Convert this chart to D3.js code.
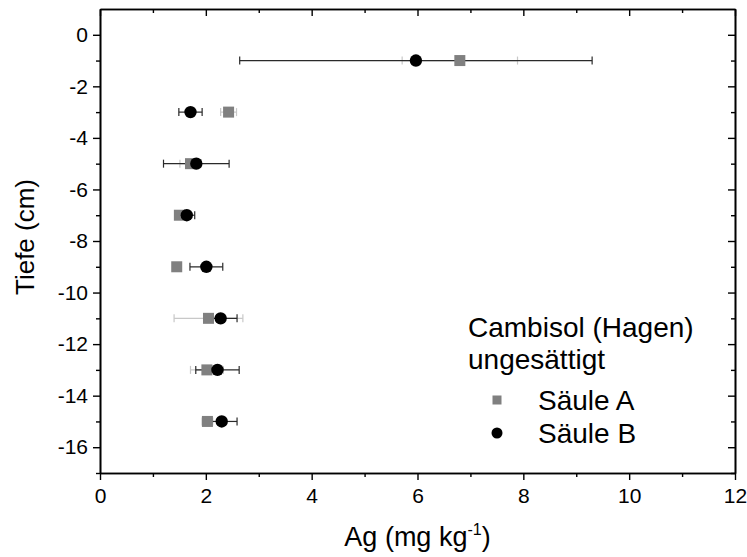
<!DOCTYPE html>
<meta charset="utf-8">
<script src="https://d3js.org/d3.v7.min.js"></script>
<style>
  body { margin: 0; background: white; }
  text { font-family: "Liberation Sans", Arial, sans-serif; fill: black; }
</style>
<div id="chart"></div>
<script>
// data
var depths = [-1, -3, -5, -7, -9, -11, -13, -15];
var saeuleA = [6.8, 2.43, 1.71, 1.5, 1.45, 2.05, 2.02, 2.03];
var saeuleAErr = [1.09, 0.15, 0.2, 0.08, 0.08, 0.65, 0.31, 0.1];
var saeuleB = [5.97, 1.71, 1.82, 1.64, 2.01, 2.28, 2.22, 2.3];
var saeuleBErr = [3.33, 0.22, 0.62, 0.15, 0.31, 0.31, 0.41, 0.29];
var xMajor = [0, 2, 4, 6, 8, 10, 12];
var yMajor = [0, -2, -4, -6, -8, -10, -12, -14, -16];

var margin = {top: 9, right: 12, bottom: 84, left: 100},
    width = 747 - margin.left - margin.right,
    height = 557 - margin.top - margin.bottom;

var svg = d3.select("#chart").append("svg")
    .attr("width", 747).attr("height", 557)
  .append("g")
    .attr("transform", "translate(" + margin.left + "," + margin.top + ")");

var x = d3.scaleLinear().domain([0, 12]).range([0, width]);
var y = d3.scaleLinear().domain([-17, 1]).range([height, 0]);

var xMinor = d3.range(1, 12, 2);
var yMinor = d3.range(-17, 1, 2);
var plain = function(d) { return String(d); };  // hyphen minus like the original

// axes: major + minor, outward on bottom/left, inward on top/right
function styleAxis(g) {
  g.select(".domain").attr("stroke", "black").attr("stroke-width", 1.6);
  g.selectAll(".tick line").attr("stroke", "black").attr("stroke-width", 1.4);
  g.selectAll(".tick text").attr("font-size", "21px")
    .attr("font-family", "Liberation Sans, Arial, sans-serif");
}

svg.append("g").attr("transform", "translate(0," + height + ")")
  .call(d3.axisBottom(x).tickValues(xMinor).tickSize(4).tickFormat("").tickSizeOuter(0)).call(styleAxis);
svg.append("g").attr("transform", "translate(0," + height + ")")
  .call(d3.axisBottom(x).tickValues(xMajor).tickSize(7).tickPadding(8).tickFormat(plain).tickSizeOuter(0)).call(styleAxis);

svg.append("g")
  .call(d3.axisLeft(y).tickValues(yMinor).tickSize(4).tickFormat("").tickSizeOuter(0)).call(styleAxis);
svg.append("g")
  .call(d3.axisLeft(y).tickValues(yMajor).tickSize(7).tickPadding(5).tickFormat(plain).tickSizeOuter(0)).call(styleAxis);

svg.append("g")
  .call(d3.axisTop(x).tickValues(xMinor).tickSize(-4).tickFormat("").tickSizeOuter(0)).call(styleAxis);
svg.append("g")
  .call(d3.axisTop(x).tickValues(xMajor).tickSize(-7).tickFormat("").tickSizeOuter(0)).call(styleAxis);

svg.append("g").attr("transform", "translate(" + width + ",0)")
  .call(d3.axisRight(y).tickValues(yMinor).tickSize(-4).tickFormat("").tickSizeOuter(0)).call(styleAxis);
svg.append("g").attr("transform", "translate(" + width + ",0)")
  .call(d3.axisRight(y).tickValues(yMajor).tickSize(-7).tickFormat("").tickSizeOuter(0)).call(styleAxis);

// axis titles
svg.append("text")
  .attr("x", width / 2).attr("y", height + 73)
  .attr("text-anchor", "middle").attr("font-size", "27px")
  .html('Ag (mg kg<tspan dy="-11" font-size="16px">-1</tspan><tspan dy="11">)</tspan>');

svg.append("text")
  .attr("transform", "translate(-75," + (height / 2 - 4) + ")rotate(-90)")
  .attr("text-anchor", "middle").attr("dy", "0.35em").attr("font-size", "26px")
  .text("Tiefe (cm)");

var rows = depths.map(function(d, i) {
  return {depth: d, a: saeuleA[i], aErr: saeuleAErr[i], b: saeuleB[i], bErr: saeuleBErr[i]};
});
var cap = 4;

function errorBars(key, errKey, color, cls) {
  var g = svg.append("g").attr("class", cls).attr("stroke", color).attr("stroke-width", 1.2);
  g.selectAll(".bar").data(rows).enter().append("line")
    .attr("x1", function(d) { return x(d[key] - d[errKey]); })
    .attr("x2", function(d) { return x(d[key] + d[errKey]); })
    .attr("y1", function(d) { return y(d.depth); })
    .attr("y2", function(d) { return y(d.depth); });
  [-1, 1].forEach(function(s) {
    g.selectAll(".cap" + s).data(rows).enter().append("line")
      .attr("x1", function(d) { return x(d[key] + s * d[errKey]); })
      .attr("x2", function(d) { return x(d[key] + s * d[errKey]); })
      .attr("y1", function(d) { return y(d.depth) - cap; })
      .attr("y2", function(d) { return y(d.depth) + cap; });
  });
}

errorBars("a", "aErr", "#c8c8c8", "errA");
errorBars("b", "bErr", "#2a2a2a", "errB");

svg.selectAll(".sqA").data(rows).enter().append("rect")
  .attr("class", "sqA")
  .attr("x", function(d) { return x(d.a) - 5.5; })
  .attr("y", function(d) { return y(d.depth) - 5.5; })
  .attr("width", 11).attr("height", 11)
  .attr("fill", "#808080");

svg.selectAll(".ptB").data(rows).enter().append("circle")
  .attr("class", "ptB")
  .attr("cx", function(d) { return x(d.b); })
  .attr("cy", function(d) { return y(d.depth); })
  .attr("r", 6.2)
  .attr("fill", "black");

// legend
var lg = svg.append("g").attr("transform", "translate(368,0)");
lg.append("text").attr("x", 0).attr("y", 328).attr("font-size", "28px").text("Cambisol (Hagen)");
lg.append("text").attr("x", 0).attr("y", 360).attr("font-size", "28px").text("ungesättigt");
lg.append("rect").attr("x", 24.5).attr("y", 386.5).attr("width", 9).attr("height", 9).attr("fill", "#808080");
lg.append("text").attr("x", 70).attr("y", 401).attr("font-size", "28px").text("Säule A");
lg.append("circle").attr("cx", 29).attr("cy", 424).attr("r", 5.5).attr("fill", "black");
lg.append("text").attr("x", 70).attr("y", 434).attr("font-size", "28px").text("Säule B");
</script>
